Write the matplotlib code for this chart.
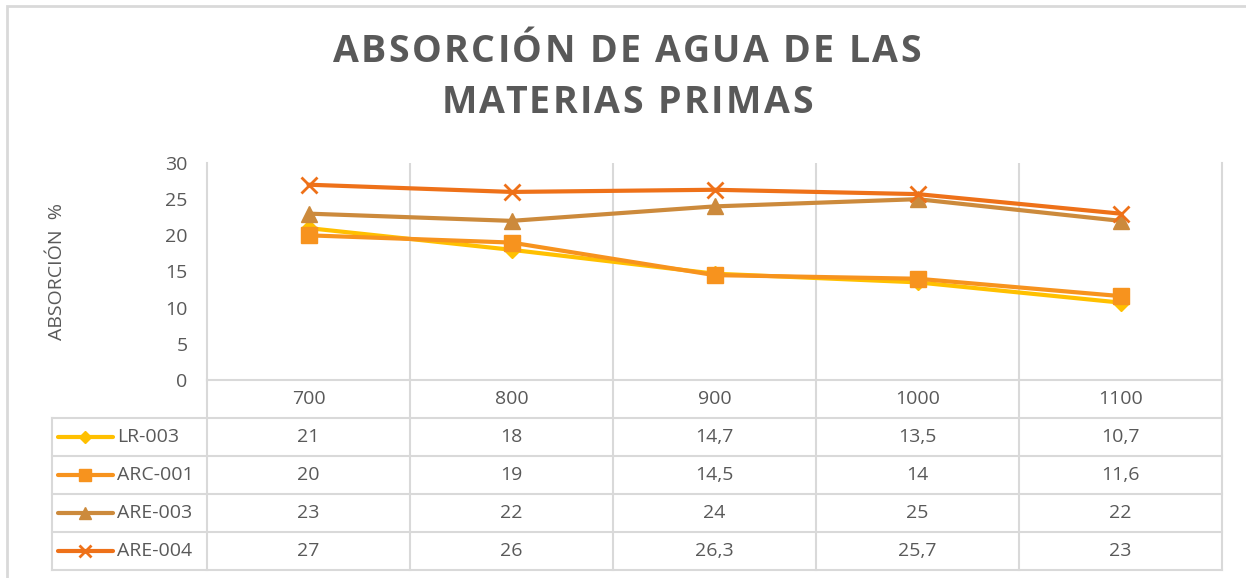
import matplotlib.pyplot as plt
from matplotlib.patches import Rectangle

plt.rcParams['font.family'] = ['Open Sans', 'DejaVu Sans']

# data
temps = ["700", "800", "900", "1000", "1100"]
series_names = ["LR-003", "ARC-001", "ARE-003", "ARE-004"]
lr003 = [21, 18, 14.7, 13.5, 10.7]
arc001 = [20, 19, 14.5, 14, 11.6]
are003 = [23, 22, 24, 25, 22]
are004 = [27, 26, 26.3, 25.7, 23]
values = [lr003, arc001, are003, are004]

colors = ["#FFC000", "#F7931E", "#CC8A3C", "#EE7119"]
markers = ["D", "s", "^", "x"]
msizes = [8, 11, 12, 11]
lmsizes = [6, 8, 9, 8]

grid_c = "#D9D9D9"
text_c = "#595959"

W, H = 1246, 578
fig = plt.figure(figsize=(W / 100, H / 100), dpi=100)


def fx(px):
    return px / W


def fy(py):
    return 1 - py / H


def spaced_text(s, cx, cy, spacing, **kw):
    # draw a line of text with extra letter spacing (in pixels)
    r = fig.canvas.get_renderer()

    def width(txt):
        t = fig.text(0, 0, txt, **kw)
        w = t.get_window_extent(r).width
        t.remove()
        return w

    total = width(s) + (len(s) - 1) * spacing
    x0 = cx - total / 2
    for k, ch in enumerate(s):
        if ch == " ":
            continue
        right_edge = x0 + width(s[:k + 1]) + k * spacing
        fig.text(fx(right_edge), fy(cy), ch, ha="right", va="center", **kw)


# outer chart frame
fig.patches.append(Rectangle((fx(7), fy(700)), fx(1400), fy(6) - fy(700),
                             transform=fig.transFigure, fill=False,
                             edgecolor=grid_c, lw=2))

# plot area
left, right, top, bottom = 207, 1222, 163, 380
ax = fig.add_axes([fx(left), fy(bottom), fx(right - left), fy(top) - fy(bottom)])
x = list(range(len(temps)))
for i, name in enumerate(series_names):
    ax.plot(x, values[i], color=colors[i], lw=3, marker=markers[i],
            markersize=msizes[i], markeredgewidth=2 if markers[i] == "x" else 1,
            markeredgecolor=colors[i], zorder=3 + i, solid_capstyle="round")
ax.set_xlim(-0.5, len(temps) - 0.5)
ax.set_ylim(0, 30)
ax.set_yticks(range(0, 31, 5))
ax.set_xticks([])
ax.tick_params(axis="y", length=0, pad=14, labelsize=14, labelcolor=text_c)
for k in range(1, len(temps)):
    ax.axvline(k - 0.5, color=grid_c, lw=1.5, zorder=1)
ax.spines["top"].set_visible(False)
for s in ["left", "right", "bottom"]:
    ax.spines[s].set_color(grid_c)
    ax.spines[s].set_linewidth(1.5)

# data table below the plot
tleft, tbottom = 52, 570
unit = (right - left) / len(temps)
xmin = -0.5 - (left - tleft) / unit
axt = fig.add_axes([fx(tleft), fy(tbottom), fx(right - tleft), fy(bottom) - fy(tbottom)])
axt.set_xlim(xmin, len(temps) - 0.5)
axt.set_ylim(5, 0)
axt.axis("off")
for k in range(len(temps) + 1):
    axt.plot([k - 0.5, k - 0.5], [0, 5], color=grid_c, lw=1.5, clip_on=False)
axt.plot([xmin, xmin], [1, 5], color=grid_c, lw=1.5, clip_on=False)
for r in range(1, 6):
    axt.plot([xmin, len(temps) - 0.5], [r, r], color=grid_c, lw=1.5, clip_on=False)

for j, t in enumerate(temps):
    axt.text(j, 0.5, t, ha="center", va="center", fontsize=14, color=text_c)

for i, name in enumerate(series_names):
    yc = i + 1.5
    l0 = -0.5 + (58 - left) / unit
    l1 = -0.5 + (113 - left) / unit
    axt.plot([l0, l1], [yc, yc], color=colors[i], lw=3, solid_capstyle="round")
    axt.plot([(l0 + l1) / 2], [yc], marker=markers[i], color=colors[i],
             markersize=lmsizes[i], markeredgewidth=2 if markers[i] == "x" else 1)
    axt.text(-0.5 + (117 - left) / unit, yc, name, ha="left", va="center",
             fontsize=14, color=text_c)
    for j, v in enumerate(values[i]):
        axt.text(j, yc, f"{v:g}".replace(".", ","), ha="center", va="center",
                 fontsize=14, color=text_c)

# titles
spaced_text("ABSORCIÓN DE AGUA DE LAS", 627, 52, 2.4,
            fontsize=27, fontweight="bold", color=text_c)
spaced_text("MATERIAS PRIMAS", 627, 103, 2.4,
            fontsize=27, fontweight="bold", color=text_c)
fig.text(fx(57), fy(271), "ABSORCIÓN  %", ha="center", va="center",
         rotation=90, fontsize=14, color=text_c)

fig.savefig("out.png", dpi=100)
